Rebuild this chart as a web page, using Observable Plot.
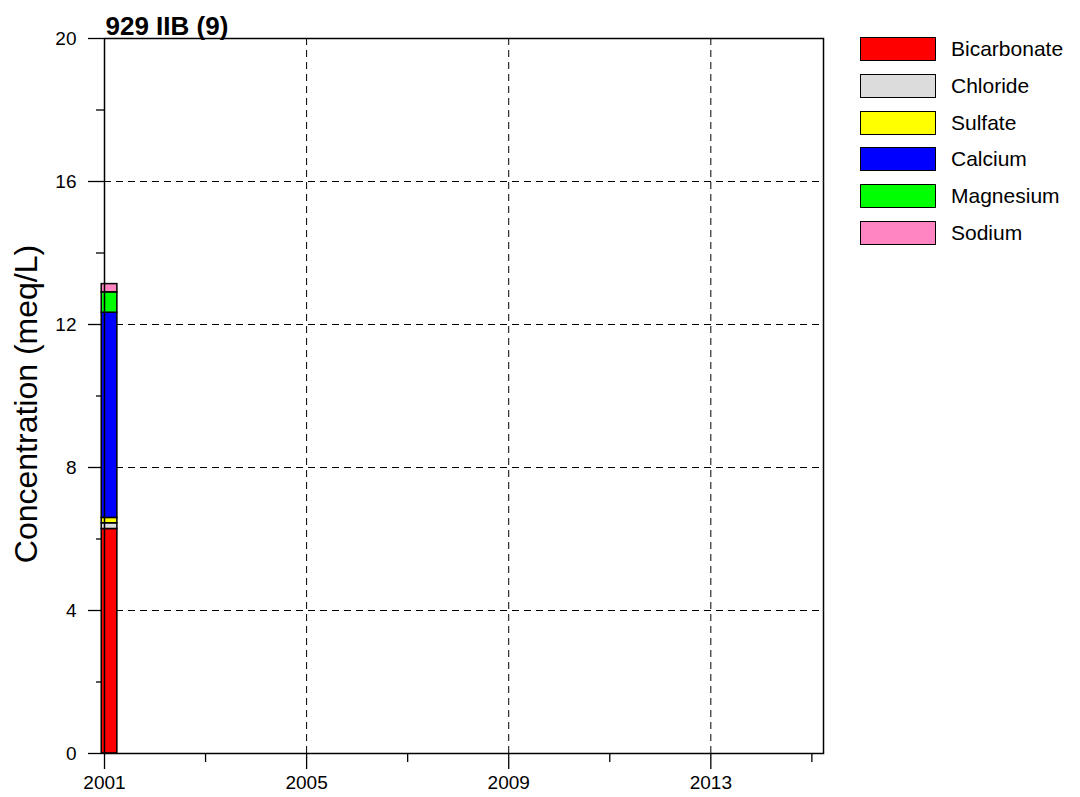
<!DOCTYPE html>
<html>
<head>
<meta charset="utf-8">
<script src="https://cdn.jsdelivr.net/npm/d3@7"></script>
<script src="https://cdn.jsdelivr.net/npm/@observablehq/plot@0.6"></script>
<style>
  body { margin: 0; background: #fff; font-family: "Liberation Sans", Arial, sans-serif; }
  #wrap { position: relative; width: 1080px; height: 797px; }
  #legend { position: absolute; left: 860px; top: 37px; }
  .row { display: flex; align-items: center; height: 36.7px; }
  .row .sw { width: 74px; height: 22px; border: 1.5px solid #000; box-sizing: content-box; }
  .row span { margin-left: 15px; font-size: 21px; color: #000; }
  .row:first-child { margin-top: -6px; }
</style>
</head>
<body>
<div id="wrap"></div>
<script>
const title = "929 IIB (9)";
const yLabel = "Concentration (meq/L)";
const ions = ["Bicarbonate", "Chloride", "Sulfate", "Calcium", "Magnesium", "Sodium"];
const ionColors = ["#ff0000", "#dcdcdc", "#ffff00", "#0000ff", "#00ff00", "#ff85c2"];
const sampleDate = [2001.1];
const ionValues = [6.28, 0.16, 0.15, 5.74, 0.57, 0.23];
const xMajorTicks = [2001, 2005, 2009, 2013];
const xMinorTicks = [2003, 2007, 2011, 2015];
const yMajorTicks = [0, 4, 8, 12, 16, 20];
const yMinorTicks = [2, 6, 10, 14, 18];

const halfWidth = 0.155;
const rows = ions.map((ion, i) => ({date: sampleDate[0], ion, value: ionValues[i]}));

const chart = Plot.plot({
  width: 1080,
  height: 797,
  marginLeft: 104,
  marginRight: 257,
  marginTop: 38,
  marginBottom: 44,
  style: {fontFamily: "'Liberation Sans', Arial, sans-serif", color: "#000", background: "#fff"},
  x: {domain: [2001, 2015.23], label: null},
  y: {domain: [0, 20], label: null},
  color: {domain: ions, range: ionColors},
  marks: [
    Plot.gridY(yMajorTicks.filter(d => d > 0 && d < 20), {stroke: "#000", strokeOpacity: 1, strokeWidth: 1, strokeDasharray: "7,5"}),
    Plot.gridX(xMajorTicks.filter(d => d > 2001), {stroke: "#000", strokeOpacity: 1, strokeWidth: 1, strokeDasharray: "7,5"}),
    Plot.axisY({ticks: yMajorTicks, tickSize: 16, tickPadding: 12, fontSize: 19, tickFormat: d => String(d), label: null, strokeWidth: 1.3}),
    Plot.axisY({ticks: yMinorTicks, tickSize: 8, tickFormat: () => "", label: null, strokeWidth: 1.3}),
    Plot.axisX({ticks: xMajorTicks, tickSize: 16, tickPadding: 6, fontSize: 19, tickFormat: d => String(d), label: null, strokeWidth: 1.3}),
    Plot.axisX({ticks: xMinorTicks, tickSize: 9, tickFormat: () => "", label: null, strokeWidth: 1.3}),
    Plot.rectY(rows, Plot.stackY({
      x1: d => d.date - halfWidth,
      x2: d => d.date + halfWidth,
      y: "value",
      fill: "ion",
      stroke: "#000",
      strokeWidth: 1.5
    })),
    Plot.frame({stroke: "#000", strokeWidth: 1.5}),
    Plot.text([title], {frameAnchor: "top-left", textAnchor: "start", lineAnchor: "bottom", dx: 1, dy: -4, fontSize: 26, fontWeight: "bold", fill: "#000"}),
    Plot.text([yLabel], {frameAnchor: "left", textAnchor: "middle", lineAnchor: "middle", rotate: -90, dx: -78, dy: 8, fontSize: 32, fill: "#000"})
  ]
});

const wrap = document.getElementById("wrap");
wrap.appendChild(chart);

const legend = document.createElement("div");
legend.id = "legend";
ions.forEach((ion, i) => {
  const row = document.createElement("div");
  row.className = "row";
  const sw = document.createElement("div");
  sw.className = "sw";
  sw.style.background = ionColors[i];
  const label = document.createElement("span");
  label.textContent = ion;
  row.appendChild(sw);
  row.appendChild(label);
  legend.appendChild(row);
});
wrap.appendChild(legend);
</script>
</body>
</html>
